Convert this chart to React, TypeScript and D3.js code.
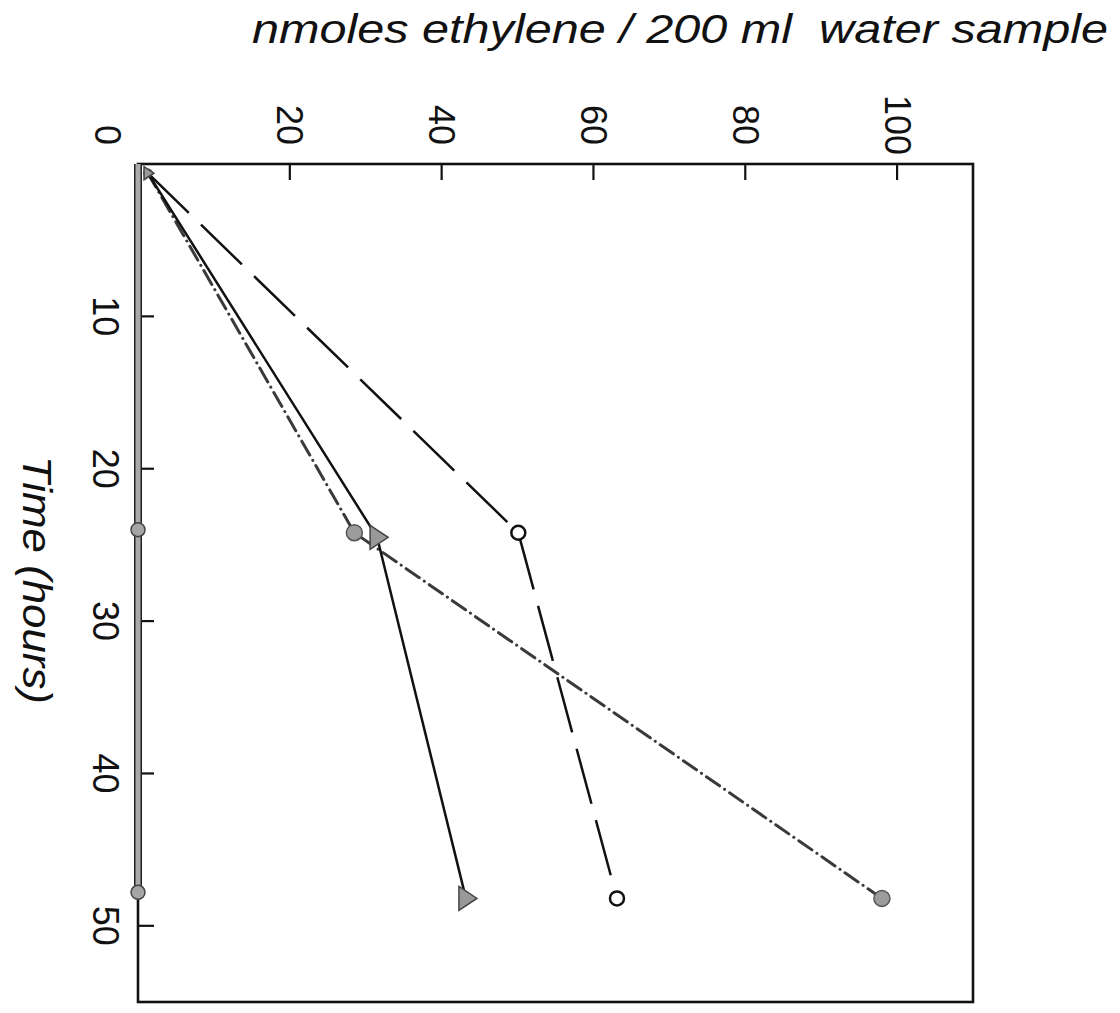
import React from 'react';
import * as d3 from 'd3';

// ---- data (time in hours, value in nmoles ethylene / 200 ml) ----
const timeTicks = [10, 20, 30, 40, 50];
const valueTicks = [20, 40, 60, 80, 100];

const triangleTimes = [0.6, 24.5, 48.2];
const triangleValues = [1.3, 31.5, 43.2];

const openCircleTimes = [0.6, 24.2, 48.2];
const openCircleValues = [1.3, 50.1, 63.1];

const dotDashTimes = [0.6, 24.2, 48.2];
const dotDashValues = [1.3, 28.5, 98];

const controlTimes = [0, 24, 47.8];
const controlValues = [0, 0, 0];

const W = 1120;
const H = 1013;
const left = 138;
const top = 164;
const right = 973;
const bottom = 1002;

type P = { t: number; v: number };
const zip = (ts: number[], vs: number[]): P[] => ts.map((t, i) => ({ t, v: vs[i] }));

export default function App() {
  const x = d3.scaleLinear().domain([0, 110]).range([left, right]);
  const y = d3.scaleLinear().domain([0, 55]).range([top, bottom]);
  const line = d3
    .line<P>()
    .x((d) => x(d.v))
    .y((d) => y(d.t));

  const tri = zip(triangleTimes, triangleValues);
  const oc = zip(openCircleTimes, openCircleValues);
  const dd = zip(dotDashTimes, dotDashValues);
  const ctl = zip(controlTimes, controlValues);

  const font = "'Liberation Sans', Arial, sans-serif";

  const triPath = (cx: number, cy: number, s: number) =>
    `M${cx - 7 * s},${cy - 12 * s} L${cx + 11 * s},${cy} L${cx - 7 * s},${cy + 12 * s} Z`;

  return (
    <svg
      width={W}
      height={H}
      style={{ position: 'absolute', left: 0, top: 0, background: '#fff' }}
    >
      <rect x={0} y={0} width={W} height={H} fill="#fff" />
      {/* value axis label */}
      <text
        x={252}
        y={43}
        fontFamily={font}
        fontStyle="italic"
        fontSize={40}
        textLength={856}
        lengthAdjust="spacingAndGlyphs"
        fill="#111"
        style={{ whiteSpace: 'pre' }}
      >
        {'nmoles ethylene / 200 ml  water sample'}
      </text>
      {/* time axis label */}
      <text
        transform={`translate(37,${y(27.3)}) rotate(90)`}
        textAnchor="middle"
        dominantBaseline="central"
        fontFamily={font}
        fontStyle="italic"
        fontSize={40}
        textLength={248}
        lengthAdjust="spacingAndGlyphs"
        fill="#111"
      >
        Time (hours)
      </text>

      {/* frame */}
      <rect
        x={left}
        y={top}
        width={right - left}
        height={bottom - top}
        fill="none"
        stroke="#111"
        strokeWidth={2.6}
      />
      {valueTicks.map((v) => (
        <g key={'v' + v}>
          <line x1={x(v)} x2={x(v)} y1={top} y2={top + 16} stroke="#111" strokeWidth={2.2} />
          <text
            transform={`translate(${x(v)},125) rotate(90)`}
            textAnchor="middle"
            dominantBaseline="central"
            fontFamily={font}
            fontSize={36}
            fill="#111"
          >
            {v}
          </text>
        </g>
      ))}
      {timeTicks.map((t) => (
        <g key={'t' + t}>
          <line x1={left} x2={left + 16} y1={y(t)} y2={y(t)} stroke="#111" strokeWidth={2.2} />
          <text
            transform={`translate(105,${y(t)}) rotate(90)`}
            textAnchor="middle"
            dominantBaseline="central"
            fontFamily={font}
            fontSize={36}
            fill="#111"
          >
            {t}
          </text>
        </g>
      ))}
      <text
        transform={`translate(107,135) rotate(90)`}
        textAnchor="middle"
        dominantBaseline="central"
        fontFamily={font}
        fontSize={36}
        fill="#111"
      >
        0
      </text>

      {/* control series: thick grey band along zero */}
      <path d={line(ctl) || ''} fill="none" stroke="#222" strokeWidth={8} />
      <path d={line(ctl) || ''} fill="none" stroke="#aaa" strokeWidth={5} />
      {ctl.slice(1).map((d, i) => (
        <circle key={'c' + i} cx={x(d.v)} cy={y(d.t)} r={7} fill="#a5a5a5" stroke="#444" strokeWidth={1.5} />
      ))}

      {/* dash-dot series */}
      <path
        d={line(dd) || ''}
        fill="none"
        stroke="#3a3a3a"
        strokeWidth={3}
        strokeDasharray="16 6 0.1 6"
        strokeLinecap="round"
      />
      {/* long dashed series */}
      <path
        d={line(oc) || ''}
        fill="none"
        stroke="#111"
        strokeWidth={2.5}
        strokeDasharray="57 17"
      />
      {/* solid series */}
      <path d={line(tri) || ''} fill="none" stroke="#111" strokeWidth={2.5} />

      {/* markers */}
      {dd.map((d, i) => (
        <circle key={'d' + i} cx={x(d.v)} cy={y(d.t)} r={i === 0 ? 4 : 8} fill="#9c9c9c" stroke="#555" strokeWidth={1.5} />
      ))}
      {oc.slice(1).map((d, i) => (
        <circle key={'o' + i} cx={x(d.v)} cy={y(d.t)} r={7} fill="#fff" stroke="#111" strokeWidth={2.5} />
      ))}
      {tri.map((d, i) => (
        <path key={'tr' + i} d={triPath(x(d.v), y(d.t), i === 0 ? 0.55 : 1)} fill="#999" stroke="#444" strokeWidth={1.5} />
      ))}
    </svg>
  );
}
